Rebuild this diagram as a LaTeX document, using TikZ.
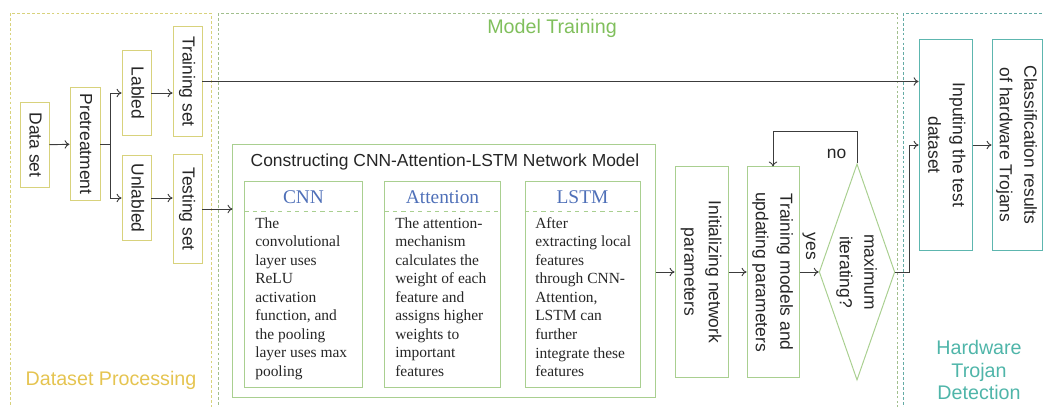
\documentclass[tikz,border=0pt]{standalone}
\usepackage{fontspec}
\setmainfont{Liberation Serif}
\setsansfont{Liberation Sans}
\usetikzlibrary{arrows,arrows.meta,shapes.geometric}

\definecolor{yelline}{HTML}{D8D27C}
\definecolor{yeltext}{HTML}{E5C450}
\definecolor{grnline}{HTML}{A9CF90}
\definecolor{grntext}{HTML}{80BF5C}
\definecolor{tealline}{HTML}{5DB6AF}
\definecolor{tealtext}{HTML}{4FB5A9}
\definecolor{hdblue}{HTML}{4F70B8}
\definecolor{flowgray}{HTML}{3C3C3C}

\newcommand{\vtext}[1]{\rotatebox{-90}{\begin{tabular}{@{}c@{}}#1\end{tabular}}}

\tikzset{
  every node/.style={font=\sffamily\fontsize{12.4}{17.5}\selectfont, text=black!85},
  ybox/.style={draw=yelline, line width=0.7pt, inner sep=0pt},
  gbox/.style={draw=grnline, line width=0.7pt, inner sep=0pt},
  tbox/.style={draw=tealline, line width=0.7pt, inner sep=0pt},
  region/.style={line width=0.5pt, dash pattern=on 2pt off 1.5pt},
  flow/.style={-{To[length=3.5pt,width=6pt]}, draw=flowgray, line width=0.65pt},
  regtitle/.style={font=\sffamily\fontsize{14}{16.3}\selectfont, align=center},
  modhead/.style={font=\rmfamily\fontsize{13.8}{16}\selectfont, text=hdblue},
  modtext/.style={font=\rmfamily\fontsize{11}{13.2}\selectfont, align=left, inner sep=0pt, anchor=north west},
}

\begin{document}
\begin{tikzpicture}[x=0.025cm, y=-0.025cm]
\useasboundingbox (0,0) rectangle (1044,407);

% regions
\draw[region, draw=yelline] (10,13) rectangle (211,415);
\draw[region, draw=grnline!80!gray] (218,13) rectangle (897,415);
\draw[region, draw=tealline!80!gray] (903,13) rectangle (1060,415);
\node[regtitle, text=yeltext] (dstitle) at (111,380) {Dataset Processing};
\node[regtitle, text=grntext] (mttitle) at (552,28) {Model Training};
\node[regtitle, text=tealtext] (hdtitle) at (979,370) {Hardware\\Trojan\\Detection};

% dataset processing
\node[ybox, minimum width=0.725cm, minimum height=2.125cm] (data) at (34.5,145) {\vtext{Data set}};
\node[ybox, minimum width=0.75cm, minimum height=2.825cm] (pre) at (85,144) {\vtext{Pretreatment}};
\node[ybox, minimum width=0.725cm, minimum height=2.125cm] (lab) at (136.5,93) {\vtext{Labled}};
\node[ybox, minimum width=0.725cm, minimum height=2.125cm] (unlab) at (136.5,198) {\vtext{Unlabled}};
\node[ybox, minimum width=0.725cm, minimum height=2.725cm] (train) at (187.5,81.5) {\vtext{Training set}};
\node[ybox, minimum width=0.725cm, minimum height=2.7cm] (test) at (187.5,209) {\vtext{Testing set}};

% network model
\node[gbox, minimum width=10.55cm, minimum height=6.3cm] (model) at (444,271) {};
\node (modtitle) at (445,162) {Constructing CNN-Attention-LSTM Network Model};
\node[gbox, minimum width=2.925cm, minimum height=5.125cm] (cnn) at (303.5,284.5) {};
\node[gbox, minimum width=2.875cm, minimum height=5.125cm] (att) at (442.5,284.5) {};
\node[gbox, minimum width=2.875cm, minimum height=5.125cm] (lstm) at (582.5,284.5) {};
\foreach \m in {cnn,att,lstm}
\draw[grnline, dashed, line width=0.5pt] (\m.west |- 0,211) -- (\m.east |- 0,211);
\node[modhead] (cnnhd) at (303.5,197) {CNN};
\node[modhead] (atthd) at (442.5,197) {Attention};
\node[modhead] (lstmhd) at (582.5,197) {LSTM};
\node[modtext] (cnntx) at (255,217) {The\\convolutional\\layer uses\\ReLU\\activation\\function, and\\the pooling\\layer uses max\\pooling};
\node[modtext] (atttx) at (395,217) {The attention-\\mechanism\\calculates the\\weight of each\\feature and\\assigns higher\\weights to\\important\\features};
\node[modtext] (lstmtx) at (535,217) {After\\extracting local\\features\\through CNN-\\Attention,\\LSTM can\\further\\integrate these\\features};

% training loop
\node[gbox, minimum width=1.325cm, minimum height=5.25cm] (init) at (701.5,272) {\vtext{Initializing network\\parameters}};
\node[gbox, minimum width=1.3cm, minimum height=5.25cm] (upd) at (773,272) {\vtext{Training models and\\updating parameters}};
\node[gbox, diamond, aspect=0.35, minimum width=1.825cm, minimum height=5.25cm] (dec) at (857,272) {\vtext{maximum\\iterating?}};

% detection
\node[tbox, minimum width=1.325cm, minimum height=5.25cm] (inp) at (945.5,145) {\vtext{Inputing the test\\dataset}};
\node[tbox, minimum width=1.25cm, minimum height=5.25cm] (cls) at (1017,145) {\vtext{Classification results\\of hardware Trojans}};

% connectors
\draw[flow] (data) -- (pre);
\draw[flow] (pre.east) -- ++(10,0) coordinate (br) |- (lab.west);
\draw[flow] (br) |- (unlab.west);
\draw[flow] (lab) -- (lab -| train.west);
\draw[flow] (unlab) -- (unlab -| test.west);
\draw[flow] (train.east) -- (train.east -| inp.west);
\draw[flow] (test.east) -- (test.east -| model.west);
\draw[flow] (model.east |- init) -- (init.west);
\draw[flow] (init) -- (upd);
\draw[flow] (upd.east) -- (dec.west) node[midway, above=5pt] {\rotatebox{-90}{yes}};
\draw[flow] (dec.north) -- ++(0,-32) node[pos=0.3, left=4pt] {no} -| (upd.north);
\draw[flow] (dec.east) -- ++(14,0) |- (inp.west);
\draw[flow] (inp) -- (cls);
\end{tikzpicture}
\end{document}
